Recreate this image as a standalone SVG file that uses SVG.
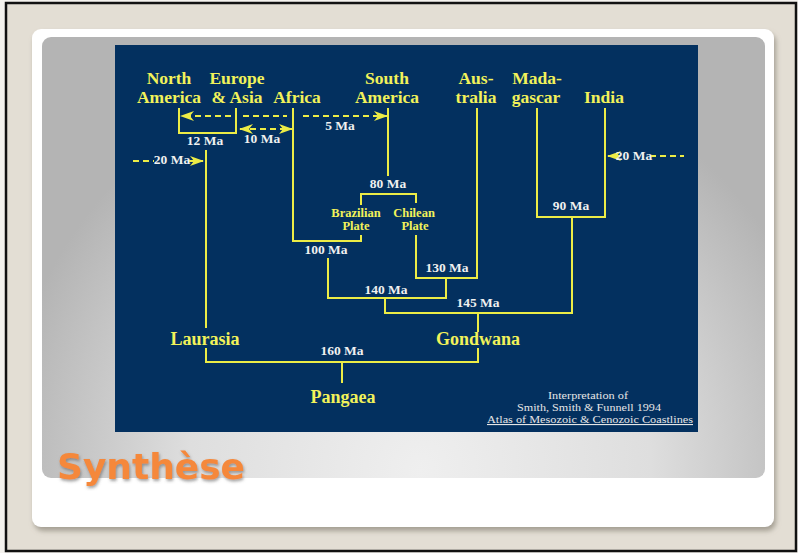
<svg xmlns="http://www.w3.org/2000/svg" width="798" height="553" viewBox="0 0 798 553">
<defs>
<style>
.ln{fill:none;stroke:#ecec46;stroke-width:2}
.dash{fill:none;stroke:#ecec46;stroke-width:2;stroke-dasharray:6 4}
.yl{font-family:"Liberation Serif","Times New Roman",serif;font-weight:bold;fill:#f2f25a;text-anchor:middle}
.big{font-size:17.5px}
.mid{font-size:18px}
.sm{font-size:12.5px}
.ma{font-family:"Liberation Serif","Times New Roman",serif;font-weight:bold;font-size:13.5px;fill:#f0f0f0;text-anchor:middle}
.cr{font-family:"Liberation Serif","Times New Roman",serif;font-size:11px;fill:#e6e6e6;text-anchor:middle}
</style>
<marker id="ah" viewBox="0 0 14 10" markerWidth="14" markerHeight="10" refX="13" refY="5" orient="auto-start-reverse" markerUnits="userSpaceOnUse">
<path d="M0,0 L14,5 L0,10 L4,5 z" fill="#ecec46"/>
</marker>
<radialGradient id="pg" cx="420" cy="470" r="420" gradientUnits="userSpaceOnUse">
<stop offset="0" stop-color="#efefef"/>
<stop offset="0.55" stop-color="#dedede"/>
<stop offset="1" stop-color="#b4b4b4"/>
</radialGradient>
<filter id="sh" x="-5%" y="-5%" width="110%" height="115%">
<feDropShadow dx="2" dy="4" stdDeviation="2.5" flood-color="#8a8578" flood-opacity="0.7"/>
</filter>
<filter id="tsh" x="-10%" y="-20%" width="120%" height="150%">
<feDropShadow dx="1" dy="2" stdDeviation="1.5" flood-color="#555" flood-opacity="0.55"/>
</filter>
</defs>
<rect x="0" y="0" width="798" height="553" fill="#f4f2ee"/>
<rect x="6" y="3" width="790" height="548" fill="#e3ded4" stroke="#111" stroke-width="2.5"/>
<rect x="32" y="29" width="742" height="498" rx="9" fill="#ffffff" filter="url(#sh)"/>
<rect x="42" y="37" width="723" height="441" rx="9" fill="url(#pg)"/>
<rect x="115" y="45" width="583" height="387" fill="#03305f"/>

<g id="connectors">
<path class="ln" d="M179,108 V133 H236 V108"/>
<path class="ln" d="M206,150 V328"/>
<path class="ln" d="M293,108 V241 H361 V235"/>
<path class="ln" d="M388,108 V176"/>
<path class="ln" d="M361,205 V194 H416 V203"/>
<path class="ln" d="M416,235 V278 H477 V108"/>
<path class="ln" d="M328,258 V298 H446 V278"/>
<path class="ln" d="M385,298 V313 H572 V217"/>
<path class="ln" d="M537,108 V217 H605 V108"/>
<path class="ln" d="M478,313 V332"/>
<path class="ln" d="M478,348 V362 H206 V348"/>
<path class="ln" d="M342,362 V383"/>
<path class="dash" d="M231,116 H181" marker-end="url(#ah)"/>
<path class="dash" d="M243,116 H287"/>
<path class="dash" d="M240,129 H292" marker-start="url(#ah)" marker-end="url(#ah)"/>
<path class="dash" d="M303,116 H387" marker-end="url(#ah)"/>
<path class="dash" d="M133,161 H154"/>
<path class="ln" d="M188,161 H203" marker-end="url(#ah)"/>
<path class="ln" d="M620,156 H608" marker-end="url(#ah)"/>
<path class="dash" d="M650,156 H684"/>
</g>

<g id="north-america"><text class="yl big" x="169" y="84">North</text><text class="yl big" x="169" y="103">America</text></g>
<g id="europe-asia"><text class="yl big" x="237" y="84">Europe</text><text class="yl big" x="237" y="103">&amp; Asia</text></g>
<g id="africa"><text class="yl big" x="297" y="103">Africa</text></g>
<g id="south-america"><text class="yl big" x="387" y="84">South</text><text class="yl big" x="387" y="103">America</text></g>
<g id="australia"><text class="yl big" x="476" y="84">Aus-</text><text class="yl big" x="476" y="103">tralia</text></g>
<g id="madagascar"><text class="yl big" x="537" y="84">Mada-</text><text class="yl big" x="536" y="103">gascar</text></g>
<g id="india"><text class="yl big" x="604" y="103">India</text></g>
<g id="brazilian-plate"><text class="yl sm" x="356" y="217">Brazilian</text><text class="yl sm" x="356" y="230">Plate</text></g>
<g id="chilean-plate"><text class="yl sm" x="414" y="217">Chilean</text><text class="yl sm" x="415" y="230">Plate</text></g>
<g id="laurasia"><text class="yl mid" x="205" y="345">Laurasia</text></g>
<g id="gondwana"><text class="yl mid" x="478" y="345">Gondwana</text></g>
<g id="pangaea"><text class="yl mid" x="343" y="403">Pangaea</text></g>

<g id="ages">
<text class="ma" x="205" y="145">12 Ma</text>
<text class="ma" x="262" y="143">10 Ma</text>
<text class="ma" x="340" y="130">5 Ma</text>
<text class="ma" x="172" y="164">20 Ma</text>
<text class="ma" x="634" y="160">20 Ma</text>
<text class="ma" x="388" y="188">80 Ma</text>
<text class="ma" x="571" y="210">90 Ma</text>
<text class="ma" x="326" y="254">100 Ma</text>
<text class="ma" x="447" y="272">130 Ma</text>
<text class="ma" x="386" y="294">140 Ma</text>
<text class="ma" x="478" y="307">145 Ma</text>
<text class="ma" x="342" y="355">160 Ma</text>
</g>

<g id="credit">
<text class="cr" x="588" y="399" textLength="80" lengthAdjust="spacingAndGlyphs">Interpretation of</text>
<text class="cr" x="589" y="411" textLength="144" lengthAdjust="spacingAndGlyphs">Smith, Smith &amp; Funnell 1994</text>
<text class="cr" x="590" y="423" textLength="206" lengthAdjust="spacingAndGlyphs" text-decoration="underline">Atlas of Mesozoic &amp; Cenozoic Coastlines</text>
</g>

<g id="title"><text x="57" y="479" font-family="'DejaVu Sans',Verdana,sans-serif" font-weight="bold" font-size="35" fill="#f5883a" filter="url(#tsh)" textLength="188" lengthAdjust="spacingAndGlyphs">Synthèse</text></g>
</svg>
